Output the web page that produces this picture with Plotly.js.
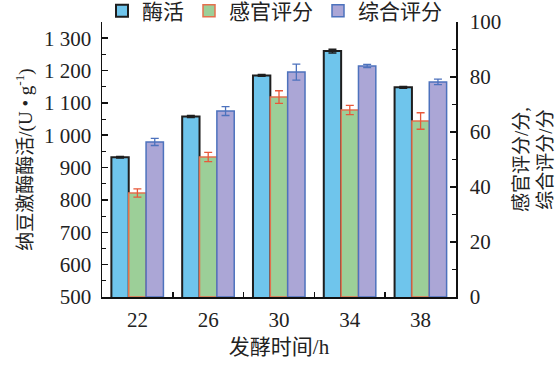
<!DOCTYPE html>
<html>
<head>
<meta charset="utf-8">
<script src="https://cdn.plot.ly/plotly-3.0.1.min.js"></script>
<style>html,body{margin:0;padding:0;background:#fff;}#chart{width:560px;height:365px;}</style>
</head>
<body>
<div id="chart"></div>
<script>
var categories = ['22', '26', '30', '34', '38'];
var enzymeActivity = [932, 1058, 1185, 1260, 1148];
var enzymeErr = [2.5, 3, 3, 6, 3];
var sensoryScore = [37.8, 50.9, 72.7, 68.0, 64.0];
var sensoryErr = [1.5, 1.7, 2.3, 1.7, 3.0];
var overallScore = [56.4, 67.6, 81.8, 84.0, 78.2];
var overallErr = [1.3, 1.6, 2.9, 0.6, 1.0];

var FONT = 'Liberation Serif, Noto Sans CJK SC, serif';

var traces = [
  {
    type: 'bar', name: '酶活', x: categories, y: enzymeActivity, yaxis: 'y',
    offsetgroup: 'a', alignmentgroup: 'g',
    marker: {color: '#6fc5ec', line: {color: '#1e1e1e', width: 2}},
    error_y: {type: 'data', array: enzymeErr, color: '#1e1e1e', thickness: 1.5, width: 4}
  },
  {
    type: 'bar', name: '感官评分', x: categories, y: sensoryScore, yaxis: 'y2',
    offsetgroup: 'b', alignmentgroup: 'g',
    marker: {color: '#9ccf98', line: {color: '#e4704e', width: 1.5}},
    error_y: {type: 'data', array: sensoryErr, color: '#e8583a', thickness: 1.3, width: 4}
  },
  {
    type: 'bar', name: '综合评分', x: categories, y: overallScore, yaxis: 'y2',
    offsetgroup: 'c', alignmentgroup: 'g',
    marker: {color: '#aba6d6', line: {color: '#4d72bd', width: 1.5}},
    error_y: {type: 'data', array: overallErr, color: '#4d72bd', thickness: 1.3, width: 4}
  }
];

var layout = {
  width: 560, height: 365,
  margin: {l: 102, r: 104, t: 22, b: 68, autoexpand: false},
  paper_bgcolor: '#fff', plot_bgcolor: '#fff',
  font: {family: FONT, size: 19, color: '#222'},
  separators: '. ',
  barmode: 'group', bargap: 0.265, bargroupgap: 0,
  showlegend: true,
  legend: {orientation: 'h', x: 0.0, xanchor: 'left', y: 1.04, yanchor: 'middle',
           font: {family: FONT, size: 21, color: '#222'}, itemwidth: 30, tracegroupgap: 0,
           bgcolor: 'rgba(0,0,0,0)'},
  xaxis: {
    type: 'category', showline: true, linecolor: '#111', linewidth: 1.5,
    ticks: 'inside', tickson: 'boundaries', ticklen: 5, tickcolor: '#111', tickwidth: 1.5,
    showgrid: false, zeroline: false, tickfont: {size: 21}, ticklabelstandoff: 3,
    title: {text: '发酵时间/h', font: {size: 21}, standoff: 8}
  },
  yaxis: {
    range: [500, 1350], dtick: 100, tick0: 500, separatethousands: true,
    showline: true, linecolor: '#111', linewidth: 1.5,
    ticks: 'inside', ticklen: 6, tickcolor: '#111', tickwidth: 1.5,
    minor: {dtick: 50, ticks: 'inside', ticklen: 4, tickcolor: '#111', tickwidth: 1},
    showgrid: false, zeroline: false, tickfont: {size: 21}, ticklabelstandoff: 5,
    title: {text: '纳豆激酶酶活/(U • g<sup>-1</sup>)', font: {size: 19}, standoff: 6}
  },
  yaxis2: {
    overlaying: 'y', side: 'right', range: [0, 100], dtick: 20,
    showline: true, linecolor: '#111', linewidth: 1.5,
    ticks: 'inside', ticklen: 6, tickcolor: '#111', tickwidth: 1.5,
    minor: {dtick: 10, ticks: 'inside', ticklen: 4, tickcolor: '#111', tickwidth: 1},
    showgrid: false, zeroline: false, tickfont: {size: 21}, ticklabelstandoff: 8,
    title: {text: '感官评分/分,<br>综合评分/分', font: {size: 19}, standoff: 14}
  }
};

Plotly.newPlot('chart', traces, layout, {displayModeBar: false, staticPlot: true});
</script>
</body>
</html>
